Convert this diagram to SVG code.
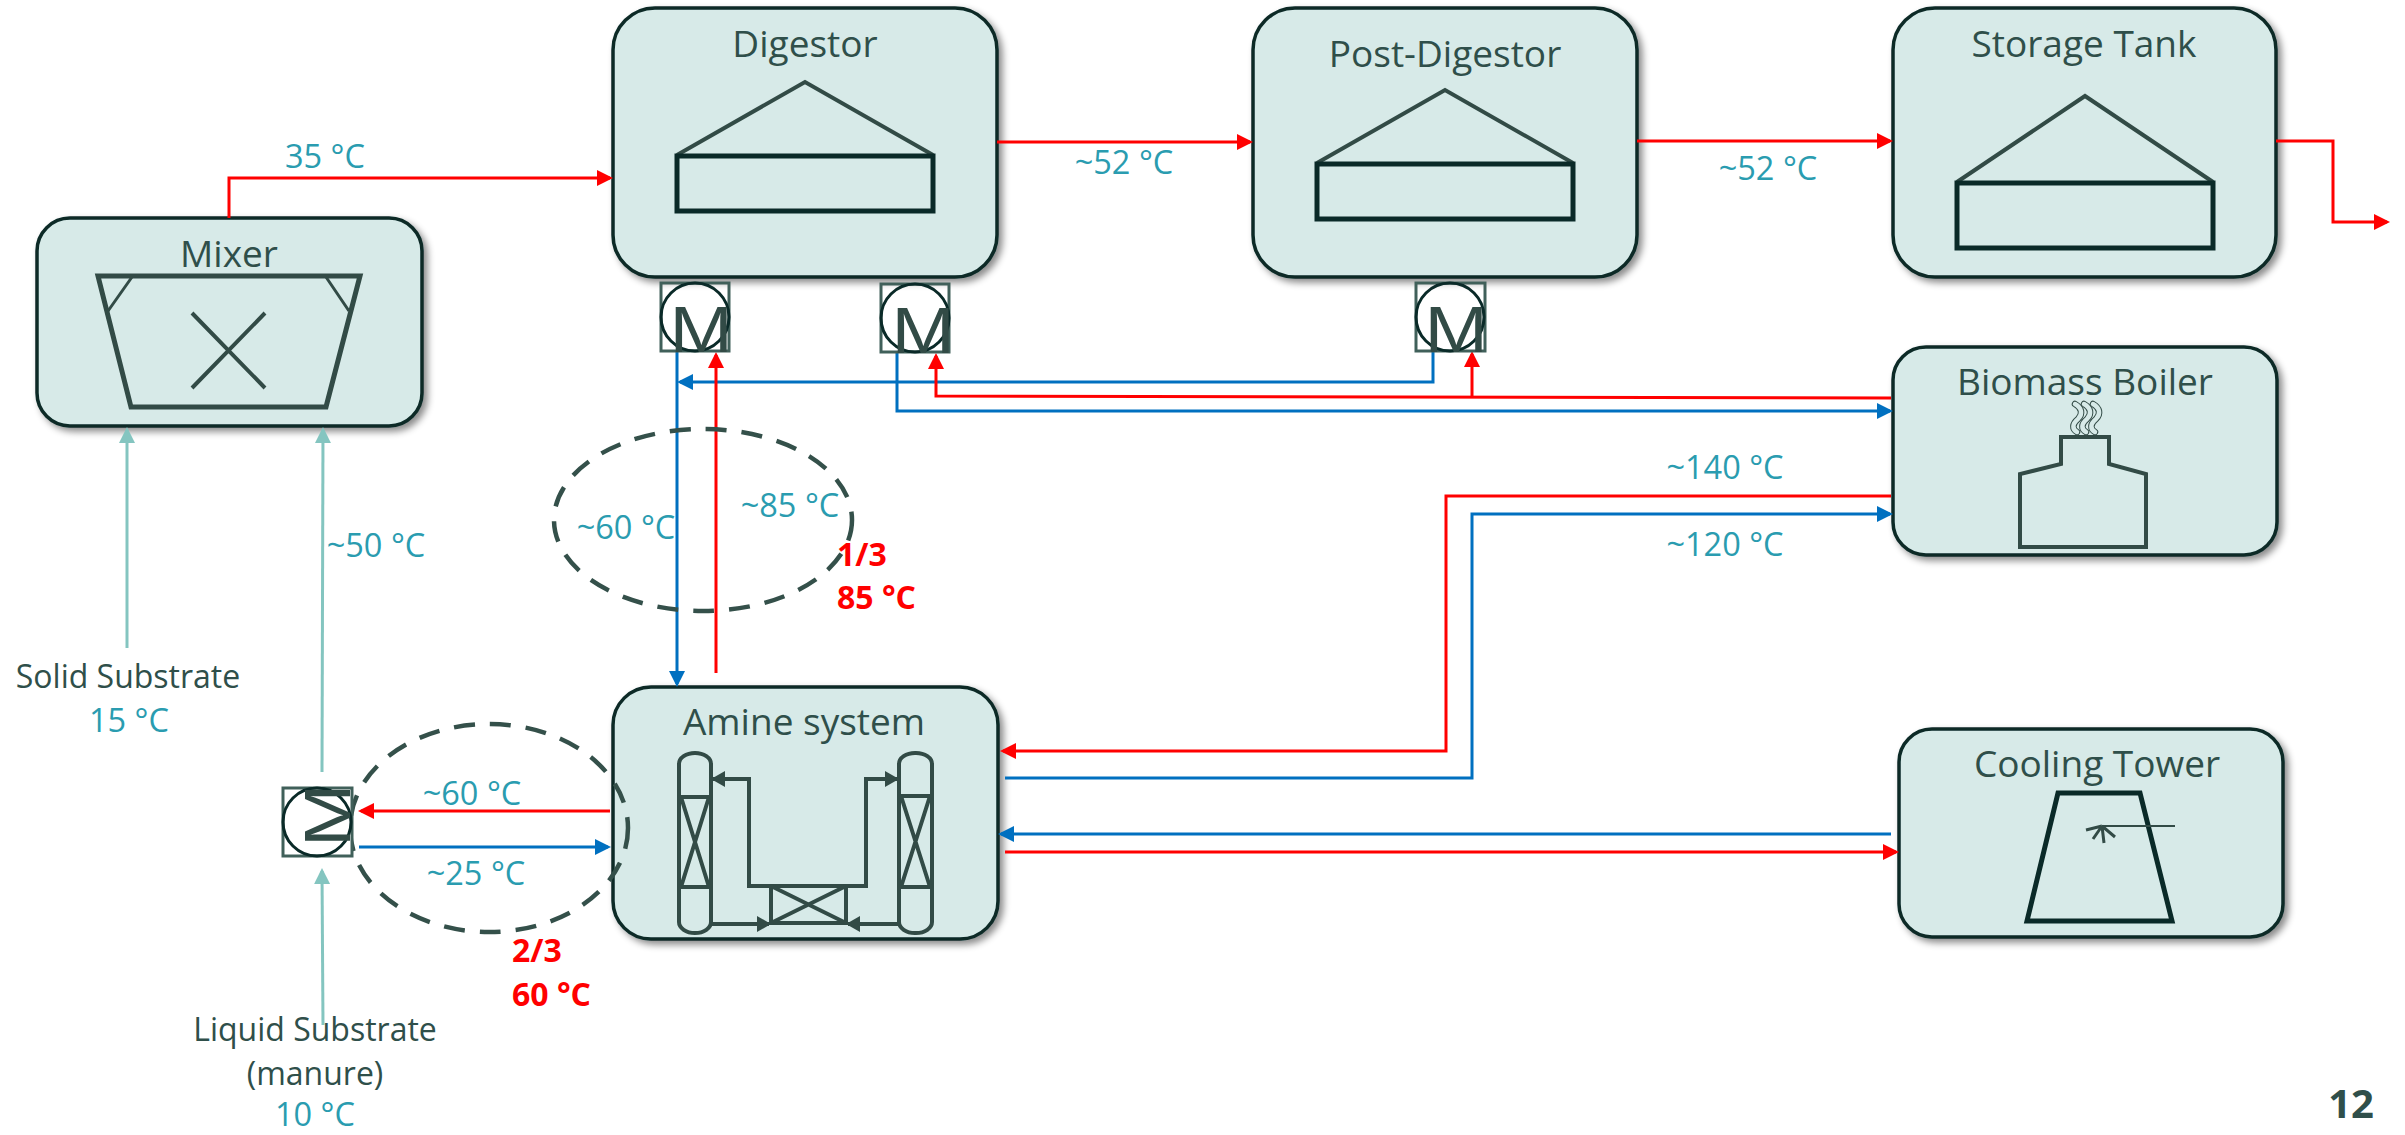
<svg xmlns="http://www.w3.org/2000/svg" xmlns:xlink="http://www.w3.org/1999/xlink" width="2405" height="1135" viewBox="0 0 2405 1135">
<style>
text{font-family:"Open Sans","Noto Sans","Liberation Sans",sans-serif}
.box{fill:#d7eae8;stroke:#0a2a28;stroke-width:3.5;filter:url(#sh)}
.ttl{font-size:37px;fill:#2f4f4a;text-anchor:middle}
.dk{font-size:32px;fill:#2f4f4a;text-anchor:middle}
.lb{font-size:32.5px;fill:#2a9cb0;text-anchor:middle}
.rd{font-size:32px;fill:#ff0000;font-weight:700}
.ic{fill:none;stroke:#324b46;stroke-width:4}
.ic5{fill:none;stroke:#0a2a28;stroke-width:5}
.c{fill:none;stroke-width:3}
.re{stroke:#ff0000;marker-end:url(#ar)}
.be{stroke:#0070c0;marker-end:url(#ab)}
.t{fill:none;stroke:#84c5c0;stroke-width:3;marker-end:url(#at)}
.dash{fill:none;stroke:#34504a;stroke-width:4.5;stroke-dasharray:21 15}
.mb{fill:none;stroke:#40605a;stroke-width:3}
.mc{fill:none;stroke:#0a2a28;stroke-width:3}
.mt{font-family:"Liberation Sans",Arial,sans-serif;font-size:65px;fill:#324b46}
</style>
<defs>
<filter id="sh" x="-10%" y="-10%" width="125%" height="125%"><feDropShadow dx="4" dy="4" stdDeviation="3.5" flood-color="#000" flood-opacity=".45"/></filter>
<marker id="ar" markerUnits="userSpaceOnUse" markerWidth="18" markerHeight="18" refX="13" refY="8" orient="auto"><path d="M0 0L16 8L0 16Z" fill="#ff0000"/></marker>
<marker id="ab" markerUnits="userSpaceOnUse" markerWidth="18" markerHeight="18" refX="13" refY="8" orient="auto"><path d="M0 0L16 8L0 16Z" fill="#0070c0"/></marker>
<marker id="at" markerUnits="userSpaceOnUse" markerWidth="18" markerHeight="18" refX="13" refY="8" orient="auto"><path d="M0 0L16 8L0 16Z" fill="#84c5c0"/></marker>
<marker id="ai" markerUnits="userSpaceOnUse" markerWidth="16" markerHeight="18" refX="12" refY="8" orient="auto"><path d="M0 0L14 8L0 16Z" fill="#324b46"/></marker>
<path id="smoke" d="M2075 404c7 4 8 10 3 15c-6 5-6 10-1 13" fill="none" stroke-linecap="round"/>
</defs>

<g id="mixer">
<rect class="box" x="37" y="218" width="385" height="208" rx="33"/>
<text class="ttl" x="229" y="267">Mixer</text>
<path class="ic" style="stroke-width:5" d="M98 276H360L326 407H131Z"/>
<path class="ic" style="stroke-width:3" d="M132 277L108 311M326 277L349 311"/>
<path class="ic" d="M192 313L265 388M265 313L192 388"/>
</g>

<g id="digestor">
<rect class="box" x="613" y="8" width="384" height="269" rx="42"/>
<text class="ttl" x="805" y="57">Digestor</text>
<path class="ic" d="M677 155L805 82L933 155"/>
<rect class="ic5" x="677" y="156" width="256" height="55"/>
</g>

<g id="post-digestor">
<rect class="box" x="1253" y="8" width="384" height="269" rx="42"/>
<text class="ttl" x="1445" y="67">Post-Digestor</text>
<path class="ic" d="M1317 163L1445 90L1573 163"/>
<rect class="ic5" x="1317" y="164" width="256" height="55"/>
</g>

<g id="storage-tank">
<rect class="box" x="1893" y="8" width="383" height="269" rx="42"/>
<text class="ttl" x="2084" y="57">Storage Tank</text>
<path class="ic" d="M1957 182L2085 96L2213 182"/>
<rect class="ic5" x="1957" y="183" width="256" height="65"/>
</g>

<g id="biomass-boiler">
<rect class="box" x="1893" y="347" width="384" height="208" rx="33"/>
<text class="ttl" x="2085" y="395">Biomass Boiler</text>
<path class="ic" d="M2020 547V474L2061 464V437H2109V464L2146 474V547Z"/>
<g id="smoke-icon">
<use href="#smoke" stroke="#324b46" stroke-width="6.5"/><use href="#smoke" stroke="#d7eae8" stroke-width="4.5"/>
<use href="#smoke" x="9" stroke="#324b46" stroke-width="6.5"/><use href="#smoke" x="9" stroke="#d7eae8" stroke-width="4.5"/>
<use href="#smoke" x="18" stroke="#324b46" stroke-width="6.5"/><use href="#smoke" x="18" stroke="#d7eae8" stroke-width="4.5"/>
</g>
</g>

<g id="cooling-tower">
<rect class="box" x="1899" y="729" width="384" height="208" rx="33"/>
<text class="ttl" x="2097" y="777">Cooling Tower</text>
<path class="ic5" d="M2058 793H2140L2172 921H2027Z"/>
<path class="ic" style="stroke-width:2" d="M2102 826H2175"/>
<path class="ic" style="stroke-width:3" d="M2102 826L2086 830M2102 826L2093 839M2102 826L2104 843M2102 826L2115 837"/>
</g>

<g id="amine-system">
<rect class="box" x="613" y="687" width="385" height="252" rx="38"/>
<text class="ttl" x="804" y="735">Amine system</text>
<rect class="ic" x="679" y="753" width="32" height="180" rx="16" ry="11"/>
<rect class="ic" x="899" y="753" width="33" height="180" rx="16" ry="11"/>
<path class="ic" d="M679 797H711M679 887H711M681 797L709 887M709 797L681 887"/>
<path class="ic" d="M899 796H932M899 887H932M901 796L930 887M930 796L901 887"/>
<rect class="ic" x="771" y="886" width="75" height="37"/>
<path class="ic" d="M771 886L846 923M846 886L771 923"/>
<path class="ic" style="marker-end:url(#ai)" d="M771 886H749V779H713"/>
<path class="ic" style="marker-end:url(#ai)" d="M846 886H866V779H897"/>
<path class="ic" style="marker-end:url(#ai)" d="M711 924H769"/>
<path class="ic" style="marker-end:url(#ai)" d="M899 924H848"/>
</g>

<g id="connectors">
<path class="c re" d="M229 218V178H610"/>
<path class="c re" d="M997 142H1250"/>
<path class="c re" d="M1637 141H1890"/>
<path class="c re" d="M2276 141H2333V222H2387"/>
<path class="c be" d="M1433 351V382H680"/>
<path class="c be" d="M677 351V684"/>
<path class="c re" d="M716 673V355"/>
<path class="c be" d="M897 351V411H1890"/>
<path class="c re" d="M1891 398L936 396V356"/>
<path class="c re" d="M1472 397V354"/>
<path class="c re" d="M1891 496H1446V751H1003"/>
<path class="c be" d="M1005 778H1472V514H1890"/>
<path class="c be" d="M1891 834H1001"/>
<path class="c re" d="M1005 852H1896"/>
<path class="c re" d="M610 811H361"/>
<path class="c be" d="M359 847H608"/>
<path class="t" d="M127 648V430"/>
<path class="t" d="M322 772L323 430"/>
<path class="t" d="M323 1025L322 871"/>
</g>

<g id="zone-1-3"><ellipse class="dash" cx="703" cy="520" rx="149" ry="91"/></g>
<g id="zone-2-3"><ellipse class="dash" cx="489" cy="828" rx="139" ry="104"/></g>

<g id="motor-1"><rect class="mb" x="661" y="283" width="68" height="68"/><circle class="mc" cx="695" cy="317" r="34"/><text class="mt" transform="translate(669.4 352) scale(1.17 1)">M</text></g>
<g id="motor-2"><rect class="mb" x="881" y="284" width="68" height="68"/><circle class="mc" cx="915" cy="318" r="34"/><text class="mt" transform="translate(891.4 353) scale(1.17 1)">M</text></g>
<g id="motor-3"><rect class="mb" x="1416" y="283" width="69" height="68"/><circle class="mc" cx="1450" cy="317" r="34"/><text class="mt" transform="translate(1424.4 352) scale(1.17 1)">M</text></g>
<g id="motor-4"><rect x="283" y="788" width="69" height="68" fill="#fff" stroke="#40605a" stroke-width="3"/><circle class="mc" cx="317" cy="822" r="34"/><text class="mt" transform="translate(350 847) rotate(-90) scale(1.17 1)">M</text></g>

<g id="labels">
<text class="lb" x="325" y="168">35 °C</text>
<text class="lb" x="1124" y="174">~52 °C</text>
<text class="lb" x="1768" y="180">~52 °C</text>
<text class="lb" x="1725" y="479">~140 °C</text>
<text class="lb" x="1725" y="556">~120 °C</text>
<text class="lb" x="626" y="539">~60 °C</text>
<text class="lb" x="790" y="517">~85 °C</text>
<text class="lb" x="376" y="557">~50 °C</text>
<text class="lb" x="472" y="805">~60 °C</text>
<text class="lb" x="476" y="885">~25 °C</text>
<text class="rd" x="837" y="566">1/3</text>
<text class="rd" x="837" y="609">85 °C</text>
<text class="rd" x="512" y="962">2/3</text>
<text class="rd" x="512" y="1006">60 °C</text>
<text class="dk" x="128" y="688">Solid Substrate</text>
<text class="lb" x="129" y="732">15 °C</text>
<text class="dk" x="315" y="1041">Liquid Substrate</text>
<text class="dk" x="315" y="1085">(manure)</text>
<text class="lb" x="315" y="1126">10 °C</text>
<text x="2351" y="1118" style="font-size:40px;font-weight:700;fill:#2f4f4a;text-anchor:middle">12</text>
</g>
</svg>
